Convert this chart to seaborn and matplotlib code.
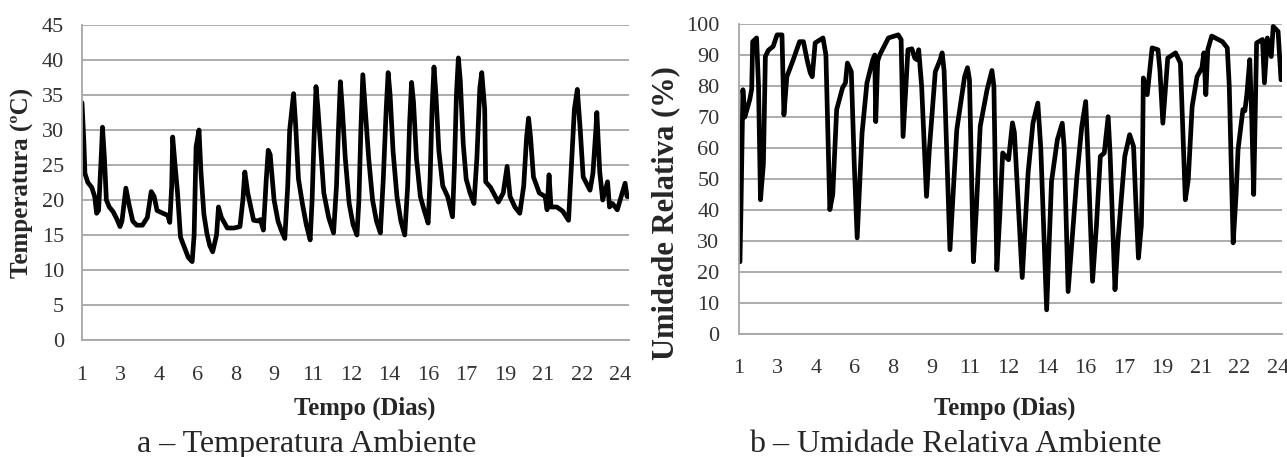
import numpy as np
import pandas as pd
import matplotlib
matplotlib.use("Agg")
import matplotlib.pyplot as plt
import seaborn as sns

# --- Temperatura ambiente: horas decorridas desde o início e valor (°C) ---
temp_horas = [0, 2, 3, 6, 10, 13, 15, 17, 20, 21, 23, 25, 28, 32, 36, 39, 41, 45, 48, 52,
              56, 62, 67, 71, 74, 77, 83, 88, 90, 92, 93, 95, 98, 101, 106, 109, 113, 115, 117, 120,
              122, 125, 128, 131, 134, 138, 140, 143, 149, 156, 162, 165, 167, 170, 176, 181, 183, 186, 189, 191,
              193, 197, 201, 204, 208, 211, 213, 217, 219, 222, 226, 230, 234, 236, 238, 240, 242, 244, 248, 253,
              258, 261, 263, 265, 267, 270, 274, 278, 282, 284, 286, 288, 290, 294, 298, 302, 306, 309, 312, 314,
              316, 319, 323, 327, 331, 334, 336, 338, 340, 343, 347, 351, 355, 357, 359, 361, 363, 366, 370, 375,
              380, 382, 384, 386, 388, 391, 394, 398, 402, 405, 408, 410, 413, 414, 419, 422, 427, 432, 436, 439,
              444, 449, 453, 456, 458, 460, 463, 469, 475, 477, 479, 481, 487, 493, 499, 502, 505, 508, 511, 514,
              521, 524, 527, 528, 531, 534, 539, 541, 544, 549, 553, 557, 559, 561]
temp_valores = [33.9, 28.0, 23.8, 22.5, 21.8, 20.5, 18.1, 18.5, 27.0, 30.4, 26.0, 20.0, 19.0, 18.3, 17.2, 16.2, 17.0, 21.7, 19.5, 17.0,
                16.4, 16.4, 17.5, 21.2, 20.5, 18.5, 18.1, 17.8, 16.8, 22.0, 29.0, 25.7, 21.0, 14.7, 12.9, 11.8, 11.2, 15.0, 27.6, 30.0,
                24.0, 18.0, 15.3, 13.5, 12.6, 15.0, 19.0, 17.5, 16.0, 16.0, 16.2, 20.0, 24.0, 21.0, 17.1, 17.0, 17.2, 15.7, 23.0, 27.1,
                26.5, 20.0, 17.0, 15.8, 14.5, 22.0, 30.0, 35.2, 31.0, 23.0, 19.5, 16.5, 14.3, 20.0, 29.0, 36.2, 33.0, 29.0, 21.0, 17.5,
                15.3, 22.0, 30.0, 36.9, 33.0, 26.0, 19.5, 16.5, 15.0, 20.0, 30.0, 37.9, 34.0, 26.0, 20.0, 17.0, 15.3, 23.0, 33.0, 38.2,
                35.0, 27.0, 20.5, 17.0, 15.0, 22.0, 31.0, 36.8, 34.0, 26.0, 20.5, 18.5, 16.7, 23.0, 33.0, 39.0, 35.0, 27.0, 22.0, 20.5,
                17.6, 25.0, 35.0, 40.3, 37.0, 28.0, 23.0, 21.0, 19.5, 26.0, 36.0, 38.2, 33.0, 22.6, 21.8, 21.0, 19.7, 21.0, 24.8, 20.5,
                19.0, 18.1, 22.0, 29.0, 31.7, 29.0, 23.3, 21.0, 20.5, 18.6, 23.6, 19.0, 19.0, 18.4, 17.1, 25.0, 33.0, 35.8, 30.0, 23.3,
                21.4, 23.8, 30.0, 32.5, 24.0, 20.0, 22.6, 19.0, 19.5, 18.6, 20.5, 22.4, 20.5, 20.5]

# --- Umidade relativa ambiente: horas decorridas e valor (%) ---
umid_horas = [1, 2, 4, 6, 9, 11, 13, 14, 18, 20, 22, 25, 27, 30, 35, 39, 44, 46, 49, 55,
              62, 66, 70, 73, 75, 78, 86, 89, 93, 96, 100, 106, 109, 111, 115, 118, 121, 126, 131, 137,
              139, 140, 142, 144, 153, 163, 166, 168, 173, 177, 180, 182, 184, 187, 192, 195, 201, 206, 208, 210,
              216, 223, 231, 234, 236, 240, 243, 247, 254, 259, 261, 264, 267, 270, 276, 280, 282, 290, 293, 296,
              301, 306, 309, 315, 320, 326, 331, 333, 337, 341, 346, 351, 355, 357, 362, 366, 370, 374, 378, 380,
              385, 388, 392, 395, 400, 404, 406, 409, 412, 413, 414, 418, 423, 429, 431, 434, 439, 447, 452, 454,
              457, 460, 464, 469, 474, 476, 478, 480, 484, 495, 500, 502, 506, 509, 511, 516, 518, 520, 523, 525,
              527, 530, 536, 538, 541, 545, 547, 552, 555]
umid_valores = [23.3, 40.0, 78.8, 70.0, 73.4, 75.6, 79.0, 94.3, 95.5, 80.0, 43.3, 55.0, 89.5, 91.5, 92.8, 96.5, 96.5, 70.7, 83.0, 88.0,
                94.3, 94.3, 88.0, 84.2, 83.0, 93.9, 95.5, 90.0, 40.1, 45.0, 72.4, 79.4, 81.0, 87.4, 84.6, 55.0, 31.0, 64.8, 81.0, 88.5,
                90.0, 68.5, 88.0, 90.0, 95.5, 96.5, 95.0, 63.7, 91.7, 92.0, 89.0, 88.5, 91.7, 80.0, 44.4, 60.0, 84.6, 88.5, 90.7, 85.0,
                27.2, 65.9, 83.0, 85.9, 82.0, 23.3, 40.0, 67.0, 78.8, 85.0, 80.0, 20.7, 38.0, 58.4, 56.2, 68.1, 65.0, 18.2, 35.0, 51.9,
                68.1, 74.5, 60.0, 7.8, 49.2, 62.7, 68.0, 60.0, 13.7, 30.0, 50.8, 67.0, 75.0, 60.0, 17.0, 35.0, 57.3, 58.4, 70.1, 58.0,
                14.3, 30.0, 45.4, 57.3, 64.3, 60.5, 45.0, 24.5, 35.0, 50.9, 82.6, 77.2, 92.3, 91.7, 85.0, 68.0, 89.0, 90.7, 87.4, 70.0,
                43.3, 49.7, 73.4, 83.0, 85.9, 90.7, 77.2, 91.7, 96.1, 94.3, 92.3, 80.0, 29.4, 45.0, 59.5, 72.4, 72.0, 77.2, 88.5, 70.0,
                45.0, 93.9, 95.0, 81.0, 95.5, 89.5, 99.2, 97.6, 82.0]

# Rótulos do eixo de tempo (dias)
dias_rotulos = ["1", "3", "4", "6", "8", "9", "11", "12", "14", "16", "17", "19", "21", "22", "24"]

temp_df = pd.DataFrame({"hora": temp_horas, "valor": temp_valores})
umid_df = pd.DataFrame({"hora": umid_horas, "valor": umid_valores})

sns.set_theme(style="white")
plt.rcParams["font.family"] = ["Liberation Serif", "DejaVu Serif"]

W, H = 1287, 457
fig = plt.figure(figsize=(W / 100, H / 100), dpi=100)

def px_rect(x0, y0, x1, y1):
    return [x0 / W, 1 - y1 / H, (x1 - x0) / W, (y1 - y0) / H]

ax1 = fig.add_axes(px_rect(82, 25, 629, 340))
ax2 = fig.add_axes(px_rect(739, 24, 1282, 334))

grid_cor = "#a6a6a6"
tick_cor = "#333333"
dias_pos = np.linspace(0, 552, len(dias_rotulos))

def estilo(ax, df, ymax, ystep, xmax, ypad, xpad):
    sns.lineplot(data=df, x="hora", y="valor", ax=ax, color="black", linewidth=3.4,
                 sort=False, estimator=None)
    ax.lines[0].set_solid_joinstyle("round")
    ax.lines[0].set_solid_capstyle("round")
    ax.set_xlim(0, xmax)
    ax.set_ylim(0, ymax)
    ax.set_yticks(np.arange(0, ymax + 0.1, ystep))
    ax.set_xticks(dias_pos)
    ax.set_xticklabels(dias_rotulos)
    ax.yaxis.grid(True, color=grid_cor, linewidth=1.3)
    ax.xaxis.grid(False)
    ax.set_axisbelow(True)
    for s in ["top", "right"]:
        ax.spines[s].set_visible(False)
    for s in ["left", "bottom"]:
        ax.spines[s].set_color(grid_cor)
        ax.spines[s].set_linewidth(1.3)
    ax.tick_params(axis="both", length=0, labelsize=16, colors=tick_cor)
    ax.tick_params(axis="y", pad=ypad)
    ax.tick_params(axis="x", pad=xpad)
    ax.set_xlabel("")
    ax.set_ylabel("")

estilo(ax1, temp_df, 45, 5, 561, 13, 19)
estilo(ax2, umid_df, 100, 10, 556, 14, 18)

# Títulos dos eixos
fig.text(22 / W, 1 - 183 / H, "Temperatura (ºC)", rotation=90, ha="center", va="center",
         fontsize=18, fontweight="bold")
fig.text(666 / W, 1 - 213 / H, "Umidade Relativa (%)", rotation=90, ha="center", va="center",
         fontsize=22, fontweight="bold")
fig.text(365 / W, 1 - 415 / H, "Tempo (Dias)", ha="center", va="baseline",
         fontsize=17.8, fontweight="bold")
fig.text(1005 / W, 1 - 415 / H, "Tempo (Dias)", ha="center", va="baseline",
         fontsize=17.8, fontweight="bold")

# Legendas das figuras
fig.text(307 / W, 1 - 452 / H, "a – Temperatura Ambiente", ha="center", va="baseline", fontsize=23)
fig.text(955 / W, 1 - 452 / H, "b – Umidade Relativa Ambiente", ha="center", va="baseline", fontsize=23)

fig.savefig("out.png", dpi=100, facecolor="white")
